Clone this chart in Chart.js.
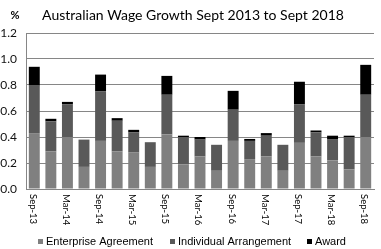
<!DOCTYPE html>
<html><head><meta charset="utf-8">
<script src="https://cdn.jsdelivr.net/npm/chart.js@4/dist/chart.umd.min.js"></script>
<style>html,body{margin:0;padding:0;background:#fff}#w{width:381px;height:249px}</style>
</head><body><div id="w"><canvas id="c"></canvas></div>
<script>
const categories = ["Sep-13","Dec-13","Mar-14","Jun-14","Sep-14","Dec-14","Mar-15","Jun-15","Sep-15","Dec-15","Mar-16","Jun-16","Sep-16","Dec-16","Mar-17","Jun-17","Sep-17","Dec-17","Mar-18","Jun-18","Sep-18"];
const enterprise = [0.43,0.29,0.40,0.17,0.37,0.29,0.28,0.17,0.42,0.19,0.25,0.14,0.37,0.23,0.25,0.14,0.355,0.25,0.22,0.15,0.40];
const individual = [0.365,0.23,0.25,0.21,0.38,0.235,0.155,0.19,0.305,0.21,0.13,0.20,0.24,0.14,0.16,0.20,0.295,0.185,0.16,0.25,0.325];
const award = [0.145,0.02,0.02,0,0.13,0.02,0.02,0,0.145,0.01,0.02,0,0.145,0.015,0.02,0,0.175,0.015,0.03,0.01,0.23];
const yTicks = [0,0.2,0.4,0.6,0.8,1.0,1.2];
const titleText = "Australian Wage Growth Sept 2013 to Sept 2018";
const unitText = "%";

const colors = ["#808080","#595959","#000000"];
const extras = {
  id:'extras',
  afterDraw(chart){
    const ctx = chart.ctx, x = chart.scales.x, ca = chart.chartArea;
    ctx.save();
    ctx.fillStyle = '#000';
    ctx.font = '14px Lato';
    ctx.textAlign = 'center'; ctx.textBaseline = 'middle';
    ctx.fillText(titleText, 193, 15);
    ctx.font = 'bold 11px Lato';
    ctx.fillText(unitText, 15, 15);
    // x labels rotated clockwise, every other
    ctx.font = '9.5px Lato';
    ctx.fillStyle = '#000';
    categories.forEach((c,i)=>{
      if(i%2) return;
      const px = x.getPixelForTick(i);
      ctx.save();
      ctx.translate(px-1.5, ca.bottom+5);
      ctx.rotate(Math.PI/2);
      ctx.textAlign='left'; ctx.textBaseline='middle';
      ctx.fillText(c,0,0);
      ctx.restore();
    });
    // legend
    ctx.font = '11px "Liberation Sans"';
    ctx.textAlign='left'; ctx.textBaseline='middle';
    const ly = 241.5;
    const starts = [38,170,307];
    chart.data.datasets.forEach((d,i)=>{
      ctx.fillStyle = d.backgroundColor;
      ctx.fillRect(starts[i], ly-2.5, 5, 5);
      ctx.fillStyle = '#000';
      ctx.fillText(d.label, starts[i]+8, ly);
    });
    ctx.restore();
  }
};

new Chart(document.getElementById('c'),{
  type:'bar',
  data:{labels:categories,datasets:[
    {label:'Enterprise Agreement',data:enterprise,backgroundColor:colors[0]},
    {label:'Individual Arrangement',data:individual,backgroundColor:colors[1]},
    {label:'Award',data:award,backgroundColor:colors[2]}
  ]},
  options:{
    responsive:true,maintainAspectRatio:false,animation:false,
    layout:{padding:{top:33,right:7,left:0,bottom:0}},
    datasets:{bar:{categoryPercentage:1,barPercentage:0.66}},
    plugins:{legend:{display:false},title:{display:false},tooltip:{enabled:false}},
    scales:{
      x:{stacked:true,ticks:{display:false},grid:{display:false,drawTicks:false},
         border:{color:'#868686'},
         afterFit(s){s.height=60;}},
      y:{stacked:true,min:0,max:1.2,
         afterBuildTicks(s){s.ticks=yTicks.map(v=>({value:v}));},
         ticks:{padding:9,color:'#111',font:{family:'Lato',size:12},callback:v=>v.toFixed(1)},
         grid:{color:'#868686',drawTicks:false},border:{color:'#868686'},
         afterFit(s){s.width=26;}}
    }
  },
  plugins:[extras]
});
</script></body></html>
